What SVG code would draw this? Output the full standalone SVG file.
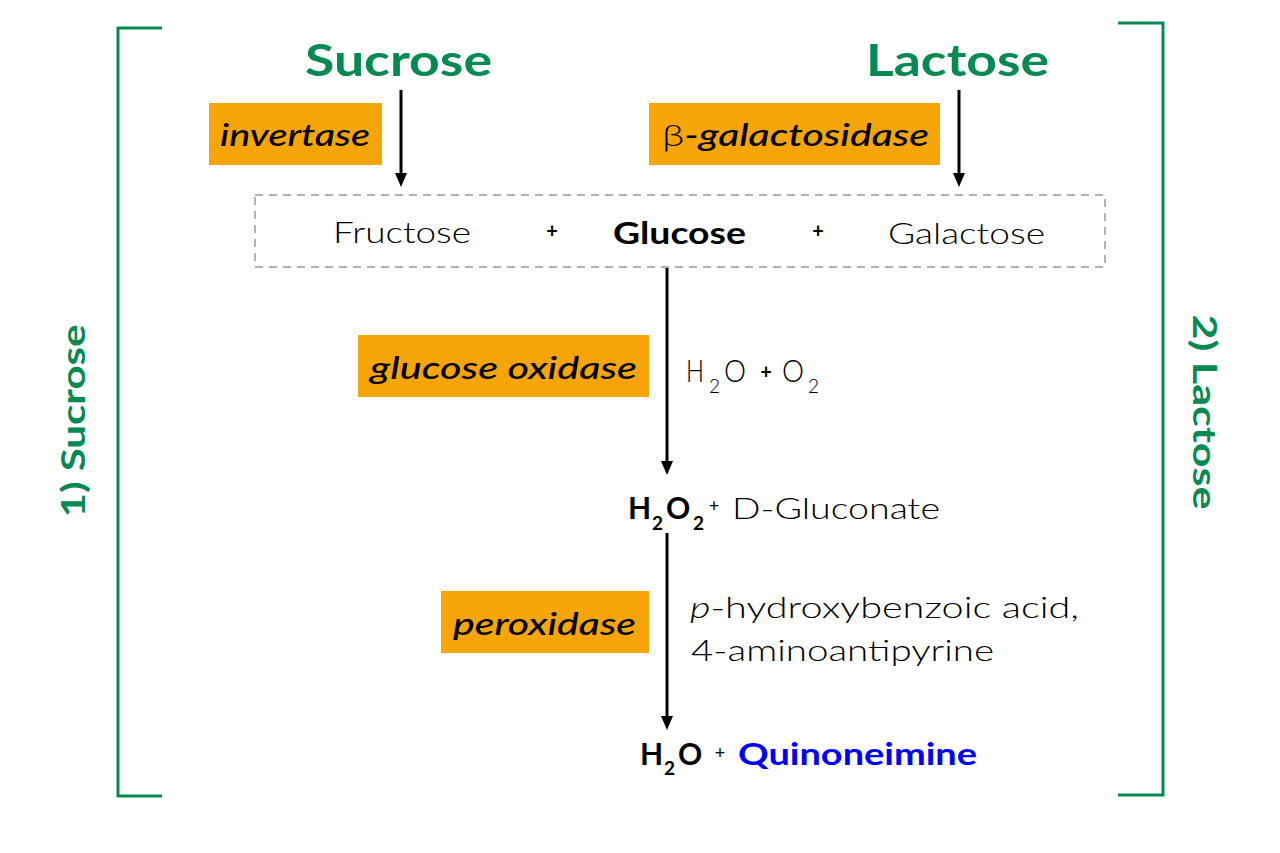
<svg xmlns="http://www.w3.org/2000/svg" width="1280" height="853" viewBox="0 0 1280 853">
<style>
text{font-family:"Lato","Open Sans","Liberation Sans",sans-serif;fill:#000;}
.title{font-size:44px;font-weight:700;fill:#058a52;}
.side{font-size:32px;font-weight:700;fill:#058a52;}
.enz{font-size:30px;font-style:italic;font-weight:500;}
.box{fill:#f5a507;}
.reg{font-size:29px;font-weight:300;}
.big{font-size:31px;font-weight:300;}
.bold{font-size:30px;font-weight:700;}
.sub{font-size:19px;}
.plus{font-size:20px;font-weight:700;}
.sup{font-size:18px;font-weight:400;}
.br{fill:none;stroke:#058a52;stroke-width:3;}
.ln{stroke:#000;stroke-width:3;}
</style>
<defs>
<path id="tip" d="M-6,-14 L6,-14 L0,0 Z" fill="#000"/>
</defs>
<g id="brackets">
<path class="br" d="M162,28 L118,28 L118,796 L162,796"/>
<path class="br" d="M1118,23 L1163,23 L1163,795 L1118,795"/>
<text class="side" transform="translate(85,421) rotate(-90)" text-anchor="middle" textLength="193" lengthAdjust="spacingAndGlyphs">1) Sucrose</text>
<text class="side" transform="translate(1193,412) rotate(90)" text-anchor="middle" textLength="195" lengthAdjust="spacingAndGlyphs">2) Lactose</text>
</g>
<g id="connectors">
<line class="ln" x1="401" y1="90" x2="401" y2="176"/>
<use href="#tip" x="401" y="187"/>
<line class="ln" x1="959" y1="90" x2="959" y2="176"/>
<use href="#tip" x="959" y="187"/>
<line class="ln" x1="667" y1="268" x2="667" y2="464"/>
<use href="#tip" x="667" y="475"/>
<line class="ln" x1="667" y1="533" x2="667" y2="719"/>
<use href="#tip" x="667" y="730"/>
</g>
<g id="sucrose">
<text class="title" x="305" y="76" textLength="187" lengthAdjust="spacingAndGlyphs">Sucrose</text>
</g>
<g id="lactose">
<text class="title" x="866" y="76" textLength="183" lengthAdjust="spacingAndGlyphs">Lactose</text>
</g>
<g id="invertase">
<rect class="box" x="209" y="103" width="173" height="62"/>
<text class="enz" x="220" y="146" textLength="150" lengthAdjust="spacingAndGlyphs">invertase</text>
</g>
<g id="bgal">
<rect class="box" x="649" y="103" width="291" height="62"/>
<text class="enz" x="662" y="146" textLength="267" lengthAdjust="spacingAndGlyphs"><tspan style="font-style:normal;font-weight:300">β</tspan>-galactosidase</text>
</g>
<g id="monosaccharides">
<rect x="255" y="195" width="850" height="72" fill="none" stroke="#999" stroke-width="1.5" stroke-dasharray="8,6"/>
<text class="reg" x="333" y="243" textLength="138" lengthAdjust="spacingAndGlyphs">Fructose</text>
<text class="plus" x="552" y="238" text-anchor="middle">+</text>
<text class="bold" x="613" y="244" textLength="133" lengthAdjust="spacingAndGlyphs">Glucose</text>
<text class="plus" x="818" y="238" text-anchor="middle">+</text>
<text class="reg" x="888" y="244" textLength="157" lengthAdjust="spacingAndGlyphs">Galactose</text>
</g>
<g id="glucose-oxidase">
<rect class="box" x="358" y="335" width="291" height="62"/>
<text class="enz" x="370" y="379" textLength="267" lengthAdjust="spacingAndGlyphs">glucose oxidase</text>
<text class="big" x="686" y="382" textLength="18" lengthAdjust="spacingAndGlyphs">H</text>
<text class="reg sub" x="709" y="393">2</text>
<text class="big" x="724" y="382" textLength="22" lengthAdjust="spacingAndGlyphs">O</text>
<text class="plus" x="766" y="379" text-anchor="middle">+</text>
<text class="big" x="782" y="382" textLength="22" lengthAdjust="spacingAndGlyphs">O</text>
<text class="reg sub" x="808" y="393">2</text>
</g>
<g id="h2o2">
<text class="bold" x="628" y="519">H</text>
<text class="bold sub" x="652" y="530">2</text>
<text class="bold" x="666" y="519">O</text>
<text class="bold sub" x="693" y="530">2</text>
<text class="sup" x="714" y="512" text-anchor="middle">+</text>
<text class="reg" x="732" y="519" textLength="208" lengthAdjust="spacingAndGlyphs">D-Gluconate</text>
</g>
<g id="peroxidase">
<rect class="box" x="441" y="591" width="208" height="62"/>
<text class="enz" x="453" y="635" textLength="183" lengthAdjust="spacingAndGlyphs">peroxidase</text>
<text class="reg" x="690" y="618" textLength="389" lengthAdjust="spacingAndGlyphs"><tspan style="font-style:italic">p</tspan>-hydroxybenzoic acid,</text>
<text class="reg" x="691" y="661" textLength="303" lengthAdjust="spacingAndGlyphs">4-aminoantipyrine</text>
</g>
<g id="products">
<text class="bold" x="640" y="765">H</text>
<text class="bold sub" x="664" y="775">2</text>
<text class="bold" x="678" y="765">O</text>
<text class="sup" x="720" y="759" text-anchor="middle">+</text>
<text class="bold" x="738" y="765" style="fill:#0000ff;font-size:31px" textLength="239" lengthAdjust="spacingAndGlyphs">Quinoneimine</text>
</g>
</svg>
